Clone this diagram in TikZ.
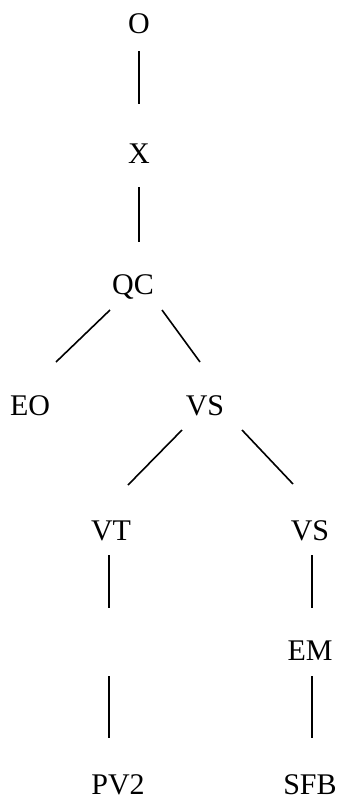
\documentclass[tikz,border=0pt]{standalone}
\usepackage{fontspec}
\setmainfont{Liberation Serif}
\begin{document}
\begin{tikzpicture}[x=1pt,y=-1pt,
  lbl/.style={inner sep=0pt,text height=20pt,text depth=0pt,font=\fontsize{30}{36}\selectfont},
  edge/.style={line width=1.6pt}]
\useasboundingbox (0,0) rectangle (340,798);
\node[lbl] (O) at (139,23) {O};
\node[lbl] (X) at (139,153) {X};
\node[lbl] (QC) at (133,284) {QC};
\node[lbl] (EO) at (30,405) {EO};
\node[lbl] (VS) at (205,405) {VS};
\node[lbl] (VT) at (111,530) {VT};
\node[lbl] (VS2) at (310,530) {VS};
\node[lbl] (EM) at (310,650) {EM};
\coordinate (L) at (109,642);
\node[lbl] (PV2) at (118,784) {PV2};
\node[lbl] (SFB) at (310,784) {SFB};
\draw[edge] ([shift={(0,28)}]O.center) -- ([shift={(0,-49)}]X.center);
\draw[edge] ([shift={(0,34)}]X.center) -- ([shift={(6,-42)}]QC.center);
\draw[edge] ([shift={(-23,26)}]QC.center) -- ([shift={(26,-43)}]EO.center);
\draw[edge] ([shift={(29,26)}]QC.center) -- ([shift={(-5,-43)}]VS.center);
\draw[edge] ([shift={(-23,25)}]VS.center) -- ([shift={(17,-45)}]VT.center);
\draw[edge] ([shift={(37,25)}]VS.center) -- ([shift={(-17,-46)}]VS2.center);
\draw[edge] ([shift={(-2,25)}]VT.center) -- ([shift={(0,-34)}]L);
\draw[edge] ([shift={(0,34)}]L) -- ([shift={(-9,-46)}]PV2.center);
\draw[edge] ([shift={(2,25)}]VS2.center) -- ([shift={(2,-42)}]EM.center);
\draw[edge] ([shift={(2,26)}]EM.center) -- ([shift={(2,-46)}]SFB.center);
\end{tikzpicture}
\end{document}
